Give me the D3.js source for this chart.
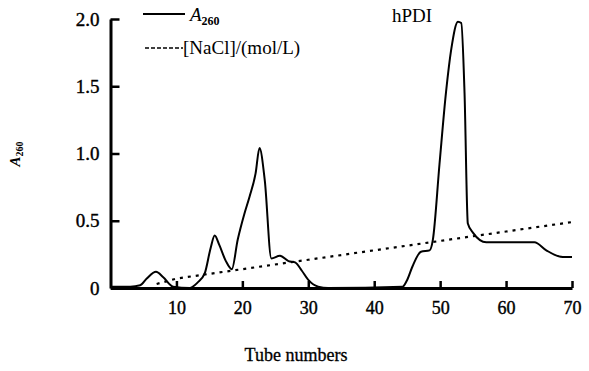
<!DOCTYPE html>
<html>
<head>
<meta charset="utf-8">
<script src="https://cdn.jsdelivr.net/npm/d3@7"></script>
<style>
  body { margin: 0; background: #fff; }
  text { font-family: "Liberation Serif", "Times New Roman", serif; fill: #000; }
</style>
</head>
<body>
<div id="chart"></div>
<script>
// A260 absorbance: [tube, A260]
var a260 = [
  [0, 0.01], [3, 0.01], [4.5, 0.02], [5.5, 0.07], [6.9, 0.12], [8, 0.08],
  [9.5, 0.01], [12, 0.0], [13.2, 0.04], [14.3, 0.11], [15.2, 0.3], [15.8, 0.39],
  [16.5, 0.32], [17.5, 0.2], [18.4, 0.14], [19.3, 0.36], [20.3, 0.55], [21.1, 0.68],
  [22, 0.85], [22.6, 1.04], [23.4, 0.8], [24.4, 0.22], [25.7, 0.24], [27, 0.2],
  [28, 0.19], [29, 0.13], [30, 0.06], [31.5, 0.01], [33, 0.0], [44.3, 0.01],
  [45, 0.06], [45.8, 0.16], [47.1, 0.27], [48.4, 0.28], [48.9, 0.36], [49.9, 0.92],
  [50.9, 1.46], [51.7, 1.78], [52.7, 1.98], [53.2, 1.97], [53.7, 1.45], [54.2, 0.48],
  [55, 0.41], [57, 0.34], [64.3, 0.34], [66.1, 0.28], [68.6, 0.23], [70, 0.23]
];
// NaCl gradient, [tube, mol/L] on the same axis
var nacl = [
  [7, 0.03], [10, 0.07], [20, 0.14], [30, 0.21], [40, 0.28],
  [50, 0.35], [60, 0.42], [70, 0.49]
];
var xTicks = [10, 20, 30, 40, 50, 60, 70];
var yTicks = [0, 0.5, 1.0, 1.5, 2.0];
var yTickLabels = ["0", "0.5", "1.0", "1.5", "2.0"];

var width = 589,
    height = 371;

var svg = d3.select("#chart").append("svg")
    .attr("width", width)
    .attr("height", height);

var x = d3.scaleLinear().domain([0, 70]).range([110.5, 572]);
var y = d3.scaleLinear().domain([0, 2]).range([288, 19]);

// axes, ticks point inward
var xAxis = svg.append("g")
    .attr("transform", "translate(0," + y(0) + ")")
    .call(d3.axisBottom(x).tickValues(xTicks).tickSize(-7).tickSizeOuter(0).tickFormat(d3.format("d")));
xAxis.select(".domain").attr("stroke-width", 3);
xAxis.selectAll(".tick line").attr("stroke-width", 2.5);
xAxis.selectAll("text")
    .attr("y", 26).attr("dy", 0)
    .style("font-size", "18px");

var yAxis = svg.append("g")
    .attr("transform", "translate(" + x(0) + ",0)")
    .call(d3.axisLeft(y).tickValues(yTicks).tickSize(-9).tickSizeOuter(0).tickPadding(11)
        .tickFormat(function (d, i) { return yTickLabels[i]; }));
yAxis.select(".domain").attr("stroke-width", 3);
yAxis.selectAll(".tick line").attr("stroke-width", 2.5);
yAxis.selectAll("text").style("font-size", "19px");
// scanned labels look heavy
svg.selectAll(".tick text").attr("stroke", "#000").attr("stroke-width", 0.4);

// curves
var line = d3.line()
    .x(function (d) { return x(d[0]); })
    .y(function (d) { return y(d[1]); });

svg.append("path")
    .datum(nacl)
    .attr("fill", "none")
    .attr("stroke", "#000")
    .attr("stroke-width", 2.2)
    .attr("stroke-dasharray", "3,5")
    .attr("d", line);

svg.append("path")
    .datum(a260)
    .attr("fill", "none")
    .attr("stroke", "#000")
    .attr("stroke-width", 2)
    .attr("stroke-linejoin", "round")
    .attr("d", line.curve(d3.curveMonotoneX));

// legend
svg.append("line")
    .attr("x1", 143).attr("x2", 185).attr("y1", 14).attr("y2", 14)
    .attr("stroke", "#000").attr("stroke-width", 1.8);
var lg1 = svg.append("text").attr("x", 190).attr("y", 21).style("font-size", "19px");
lg1.append("tspan").style("font-style", "italic").text("A");
lg1.append("tspan").attr("dy", 4).style("font-size", "12px").style("font-weight", "bold").text("260");

svg.append("line")
    .attr("x1", 145).attr("x2", 183).attr("y1", 48).attr("y2", 48)
    .attr("stroke", "#000").attr("stroke-width", 1.6)
    .attr("stroke-dasharray", "4,2");
svg.append("text").attr("x", 183).attr("y", 54)
    .style("font-size", "19px")
    .text("[NaCl]/(mol/L)");

svg.append("text").attr("x", 392).attr("y", 22)
    .style("font-size", "19px")
    .text("hPDI");

// axis titles
svg.append("text")
    .attr("x", 296).attr("y", 361)
    .attr("text-anchor", "middle")
    .attr("stroke", "#000").attr("stroke-width", 0.3)
    .style("font-size", "18px")
    .text("Tube numbers");

var yt = svg.append("text")
    .attr("transform", "translate(20,154) rotate(-90)")
    .attr("text-anchor", "middle")
    .style("font-size", "15px")
    .style("font-weight", "bold");
yt.append("tspan").style("font-style", "italic").text("A");
yt.append("tspan").attr("dy", 3).style("font-size", "10px").text("260");
</script>
</body>
</html>
